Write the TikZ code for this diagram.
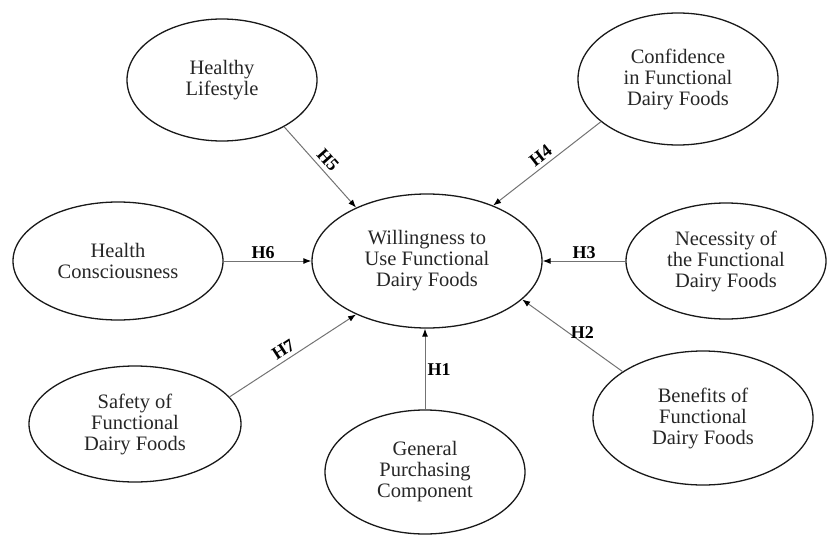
\documentclass[tikz,border=0pt]{standalone}
\usepackage{fontspec}
\setmainfont{Liberation Serif}
\usetikzlibrary{shapes.geometric,arrows.meta}
\begin{document}
\begin{tikzpicture}[x=1pt,y=-1pt,
  el/.style={draw=black!90, line width=1.3pt, ellipse, inner sep=0pt, align=center,
    font=\fontsize{20.5}{21}\selectfont, text=black!85},
  arr/.style={draw=black!55, line width=1pt, -{Latex[length=8pt,width=6pt,color=black]}},
  lbl/.style={font=\bfseries\fontsize{18}{18}\selectfont, inner sep=2pt, text=black},
  slbl/.style={lbl, sloped, above, inner sep=4pt}
]
\useasboundingbox (0,0) rectangle (829,535);
\node[el, minimum width=190pt, minimum height=122pt] (hl) at (222,80) {Healthy\\Lifestyle};
\node[el, minimum width=200pt, minimum height=132pt] (conf) at (678,79) {Confidence\\in Functional\\Dairy Foods};
\node[el, minimum width=210pt, minimum height=118pt] (hc) at (118,261) {Health\\Consciousness};
\node[el, minimum width=230pt, minimum height=134pt] (wu) at (427,261) {Willingness to\\Use Functional\\Dairy Foods};
\node[el, minimum width=200pt, minimum height=116pt] (ne) at (726,261) {Necessity of\\the Functional\\Dairy Foods};
\node[el, minimum width=220pt, minimum height=134pt] (ben) at (703,418) {Benefits of\\Functional\\Dairy Foods};
\node[el, minimum width=200pt, minimum height=124pt] (gp) at (425,472) {General\\Purchasing\\Component};
\node[el, minimum width=212pt, minimum height=116pt] (saf) at (135,424) {Safety of\\Functional\\Dairy Foods};

\draw[arr] (gp.north) -- node[lbl, right, pos=0.49] {H1} (gp.north |- wu.south);
\draw[arr] (ben.150) -- node[lbl, above, pos=0.40, yshift=2pt] {H2} (wu.-22);
\draw[arr] (ne.west) -- node[lbl, above, midway] {H3} (wu.east);
\draw[arr] (conf.-151) -- node[slbl, midway] {H4} (wu.40);
\draw[arr] (hl.-37) -- node[slbl, midway] {H5} (wu.143);
\draw[arr] (hc.east) -- node[lbl, above, pos=0.45] {H6} (wu.west);
\draw[arr] (saf.16) -- node[slbl, pos=0.47] {H7} (wu.-143);
\end{tikzpicture}
\end{document}
